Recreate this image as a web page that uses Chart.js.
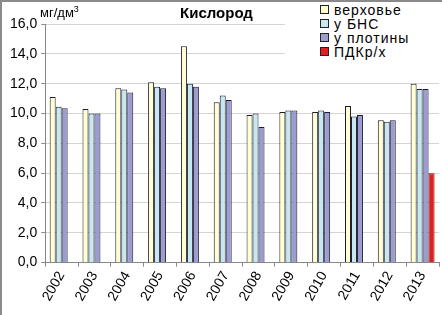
<!DOCTYPE html>
<html>
<head>
<meta charset="utf-8">
<script src="https://cdn.jsdelivr.net/npm/chart.js@4"></script>
<style>
  html, body { margin: 0; padding: 0; background: #fff; }
  #wrap { position: relative; width: 442px; height: 315px; overflow: hidden; font-family: "Liberation Sans", Arial, sans-serif; }
  #c { position: absolute; left: 0; top: 0; }
  #frame { position: absolute; left: 0; top: 0; width: 442px; height: 315px; box-sizing: border-box; border-top: 2px solid #8a8a8a; border-left: 2px solid #8a8a8a; pointer-events: none; }
  #title { position: absolute; left: 180px; top: 4px; font-size: 15px; font-weight: bold; color: #000; white-space: nowrap; }
  #unit { position: absolute; left: 40px; top: 5px; font-size: 13px; color: #000; white-space: nowrap; }
  #unit sup { font-size: 9px; vertical-align: 5px; line-height: 0; }
  #legend { position: absolute; left: 285px; top: 2px; width: 157px; height: 63px; background: #fff; }
  .li { position: absolute; left: 35px; height: 14px; font-size: 14px; line-height: 14px; letter-spacing: 1px; color: #000; white-space: nowrap; }
  .sw { display: inline-block; width: 7px; height: 7px; border: 1px solid #222; margin-right: 5px; vertical-align: 1px; }
</style>
</head>
<body>
<div id="wrap">
  <canvas id="c" width="442" height="315"></canvas>
  <div id="title">Кислород</div>
  <div id="unit">мг/дм<sup>3</sup></div>
  <div id="legend"></div>
  <div id="frame"></div>
</div>
<script>
const categories = ["2002","2003","2004","2005","2006","2007","2008","2009","2010","2011","2012","2013"];
const seriesNames = ["верховье", "у БНС", "у плотины", "ПДКр/х"];
const verkhovye = [11.1, 10.3, 11.7, 12.1, 14.5, 10.75, 9.9, 10.1, 10.1, 10.5, 9.55, 12.0];
const uBNS      = [10.45, 10.0, 11.6, 11.8, 12.0, 11.2, 10.0, 10.2, 10.2, 9.8, 9.45, 11.65];
const uPlotiny  = [10.35, 10.0, 11.4, 11.7, 11.8, 10.9, 9.1, 10.2, 10.1, 9.9, 9.55, 11.65];
const pdk       = [null, null, null, null, null, null, null, null, null, null, null, 6.0];
const yTicks    = [0, 2, 4, 6, 8, 10, 12, 14, 16];

const colors = ["#FFFFD0", "#C8E8F0", "#9C9CD0", "#E02020"];
const borders = ["#1a1a33", "#1a1a33", "#1a1a33", "#7a1010"];
const values = [verkhovye, uBNS, uPlotiny, pdk];

const datasets = seriesNames.map((name, i) => ({
  label: name,
  data: values[i],
  backgroundColor: colors[i],
  borderColor: borders[i],
  borderWidth: 1,
  borderSkipped: 'bottom',
  categoryPercentage: 0.73,
  barPercentage: 1.0
}));

const FONT = '"Liberation Sans", Arial, sans-serif';

const chart = new Chart(document.getElementById('c'), {
  type: 'bar',
  data: { labels: categories, datasets },
  options: {
    responsive: false,
    animation: false,
    devicePixelRatio: 1,
    layout: { padding: { top: 24, right: 3, left: 6, bottom: 9 } },
    plugins: { legend: { display: false }, title: { display: false }, tooltip: { enabled: false } },
    scales: {
      x: {
        grid: { display: true, drawOnChartArea: false, drawTicks: true, tickLength: 4, color: '#888', offset: true },
        border: { display: true, color: '#888', width: 1 },
        ticks: { color: '#000', font: { family: FONT, size: 14 }, minRotation: 60, maxRotation: 60, padding: 2 }
      },
      y: {
        min: 0, max: 16,
        afterBuildTicks: (axis) => { axis.ticks = yTicks.map(v => ({ value: v })); },
        grid: { color: '#d4d4d4', tickLength: 4, drawTicks: true, tickColor: '#888' },
        border: { display: true, color: '#888', width: 1 },
        ticks: { color: '#000', font: { family: FONT, size: 14 }, padding: 4,
                 callback: (v) => Number(v).toFixed(1).replace('.', ',') }
      }
    }
  }
});

const leg = document.getElementById('legend');
chart.data.datasets.forEach((ds, i) => {
  const d = document.createElement('div');
  d.className = 'li';
  d.style.top = (1 + i * 14) + 'px';
  d.innerHTML = '<span class="sw" style="background:' + ds.backgroundColor + '"></span>' + ds.label;
  leg.appendChild(d);
});
</script>
</body>
</html>
